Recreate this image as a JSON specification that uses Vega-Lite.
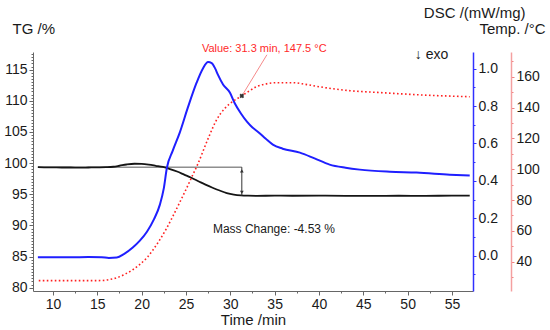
{
  "$schema": "https://vega.github.io/schema/vega-lite/v6.json",
  "width": 440,
  "height": 239,
  "autosize": {"type": "none"},
  "padding": {"left": 33, "top": 52, "right": 77, "bottom": 39},
  "background": "white",
  "config": {
    "font": "Liberation Sans",
    "view": {"stroke": null},
    "axis": {"grid": false, "labelFontSize": 14, "labelColor": "#1a1a1a", "titleFontSize": 15, "titleFontWeight": "normal", "titleColor": "#1a1a1a", "labelOverlap": false, "labelFlush": false}
  },
  "datasets": {
    "tg": [
      {"t": 8.3, "tg": 99.35}, {"t": 9, "tg": 99.33}, {"t": 10, "tg": 99.32}, {"t": 11, "tg": 99.3}, {"t": 12, "tg": 99.3},
      {"t": 13, "tg": 99.28}, {"t": 14, "tg": 99.3}, {"t": 15, "tg": 99.32}, {"t": 16, "tg": 99.35}, {"t": 16.8, "tg": 99.42},
      {"t": 17.5, "tg": 99.58}, {"t": 18.3, "tg": 99.78}, {"t": 19.2, "tg": 99.9}, {"t": 20, "tg": 99.87}, {"t": 20.8, "tg": 99.75},
      {"t": 21.6, "tg": 99.57}, {"t": 22.4, "tg": 99.38}, {"t": 23.2, "tg": 99.05}, {"t": 24, "tg": 98.65}, {"t": 24.8, "tg": 98.15},
      {"t": 25.6, "tg": 97.65}, {"t": 26.4, "tg": 97.1}, {"t": 27.2, "tg": 96.55}, {"t": 28, "tg": 96.05}, {"t": 28.8, "tg": 95.6},
      {"t": 29.6, "tg": 95.2}, {"t": 30.4, "tg": 94.95}, {"t": 31.2, "tg": 94.82}, {"t": 32, "tg": 94.77}, {"t": 33, "tg": 94.75},
      {"t": 35, "tg": 94.78}, {"t": 37, "tg": 94.76}, {"t": 40, "tg": 94.78}, {"t": 43, "tg": 94.75}, {"t": 46, "tg": 94.74},
      {"t": 49, "tg": 94.76}, {"t": 52, "tg": 94.75}, {"t": 55, "tg": 94.77}, {"t": 57, "tg": 94.77}
    ],
    "dsc": [
      {"t": 8.3, "dsc": -0.008}, {"t": 10, "dsc": -0.008}, {"t": 12, "dsc": -0.009}, {"t": 14, "dsc": -0.007}, {"t": 15.5, "dsc": -0.008},
      {"t": 16.3, "dsc": -0.012}, {"t": 17.2, "dsc": -0.01}, {"t": 18, "dsc": 0.008}, {"t": 19, "dsc": 0.043}, {"t": 19.8, "dsc": 0.08},
      {"t": 20.6, "dsc": 0.128}, {"t": 21.4, "dsc": 0.195}, {"t": 22.06, "dsc": 0.273}, {"t": 22.5, "dsc": 0.36}, {"t": 22.85, "dsc": 0.47},
      {"t": 23.5, "dsc": 0.56}, {"t": 24.3, "dsc": 0.658}, {"t": 25.2, "dsc": 0.79}, {"t": 26.2, "dsc": 0.925}, {"t": 26.9, "dsc": 1.0},
      {"t": 27.5, "dsc": 1.035}, {"t": 27.9, "dsc": 1.03}, {"t": 28.3, "dsc": 1.0}, {"t": 28.6, "dsc": 0.968}, {"t": 29.2, "dsc": 0.914},
      {"t": 29.95, "dsc": 0.872}, {"t": 30.5, "dsc": 0.815}, {"t": 31.2, "dsc": 0.76}, {"t": 31.9, "dsc": 0.715}, {"t": 32.5, "dsc": 0.685},
      {"t": 33.1, "dsc": 0.663}, {"t": 34, "dsc": 0.625}, {"t": 34.8, "dsc": 0.594}, {"t": 35.9, "dsc": 0.572}, {"t": 37.85, "dsc": 0.551},
      {"t": 39.5, "dsc": 0.52}, {"t": 41.2, "dsc": 0.487}, {"t": 43, "dsc": 0.47}, {"t": 44.6, "dsc": 0.46}, {"t": 48, "dsc": 0.449},
      {"t": 51, "dsc": 0.444}, {"t": 54.75, "dsc": 0.433}, {"t": 57, "dsc": 0.428}
    ],
    "temp": [
      {"t": 8.4, "temp": 27.7}, {"t": 10, "temp": 27.7}, {"t": 12, "temp": 27.7}, {"t": 14, "temp": 27.7}, {"t": 15.6, "temp": 27.8},
      {"t": 16.4, "temp": 28.5}, {"t": 17.2, "temp": 29.6}, {"t": 18.1, "temp": 31.8}, {"t": 19, "temp": 34.8}, {"t": 19.8, "temp": 38.3},
      {"t": 20.6, "temp": 42.6}, {"t": 21.3, "temp": 47.8}, {"t": 22.06, "temp": 54.3}, {"t": 22.8, "temp": 61.5}, {"t": 23.5, "temp": 69.2},
      {"t": 24.3, "temp": 78.5}, {"t": 25.1, "temp": 88.0}, {"t": 25.7, "temp": 95.5}, {"t": 26.35, "temp": 103.5}, {"t": 27.4, "temp": 118.5},
      {"t": 28.5, "temp": 132.5}, {"t": 29.4, "temp": 139.5}, {"t": 30.3, "temp": 144.0}, {"t": 31.3, "temp": 147.5}, {"t": 32.1, "temp": 150.6},
      {"t": 33, "temp": 153.6}, {"t": 34, "temp": 155.3}, {"t": 35.2, "temp": 156.1}, {"t": 37, "temp": 156.1}, {"t": 38.5, "temp": 155.0},
      {"t": 40, "temp": 153.5}, {"t": 43.5, "temp": 150.9}, {"t": 47.2, "temp": 149.6}, {"t": 51, "temp": 148.3}, {"t": 57, "temp": 147.0}
    ],
    "baseline": [{"t": 8.3, "t2": 31.3, "tg": 99.35}],
    "massArrow": [{"t": 31.3, "tg": 99.35, "tg2": 94.77}],
    "arrowHeads": [{"t": 31.3, "tg": 98.75, "end": "top"}, {"t": 31.3, "tg": 95.3, "end": "bottom"}],
    "massLabel": [{"t": 28.04, "tg": 89.47, "label": "Mass Change: -4.53 %"}],
    "exoLabel": [{"t": 50.8, "tg": 117.4, "label": "↓ exo"}],
    "marker": [{"t": 31.3, "temp": 147.5}],
    "leader": [{"t": 31.3, "temp": 147.5, "t2": 34.13, "temp2": 174.2}],
    "valueLabel": [{"t": 26.8, "temp": 178.2, "label": "Value: 31.3 min, 147.5 °C"}]
  },
  "encoding": {
    "x": {
      "field": "t", "type": "quantitative",
      "scale": {"domain": [7.75, 57.37], "nice": false, "zero": false},
      "axis": {
        "title": "Time /min", "titleX": 220, "titleY": 28, "titleBaseline": "middle", "titleAlign": "center",
        "values": [10, 12.5, 15, 17.5, 20, 22.5, 25, 27.5, 30, 32.5, 35, 37.5, 40, 42.5, 45, 47.5, 50, 52.5, 55],
        "format": ".0f",
        "labelExpr": "datum.value % 5 === 0 ? datum.label : ''",
        "tickSize": {"condition": {"test": "datum.value % 5 === 0", "value": 4}, "value": 2},
        "domainColor": "#666", "tickColor": "#666", "labelPadding": 2
      }
    }
  },
  "layer": [
    {
      "encoding": {
        "y": {
          "field": "tg", "type": "quantitative",
          "scale": {"domain": [79.47, 117.84], "nice": false, "zero": false},
          "axis": {
            "orient": "left", "title": "TG /%", "titleAngle": 0, "titleAlign": "left", "titleBaseline": "middle", "titleX": -21, "titleY": -24,
            "values": [80, 80.5, 81, 81.5, 82, 82.5, 83, 83.5, 84, 84.5, 85, 85.5, 86, 86.5, 87, 87.5, 88, 88.5, 89, 89.5, 90, 90.5, 91, 91.5, 92, 92.5, 93, 93.5, 94, 94.5, 95, 95.5, 96, 96.5, 97, 97.5, 98, 98.5, 99, 99.5, 100, 100.5, 101, 101.5, 102, 102.5, 103, 103.5, 104, 104.5, 105, 105.5, 106, 106.5, 107, 107.5, 108, 108.5, 109, 109.5, 110, 110.5, 111, 111.5, 112, 112.5, 113, 113.5, 114, 114.5, 115, 115.5, 116, 116.5, 117, 117.5],
            "format": ".0f",
            "labelExpr": "datum.value % 5 === 0 ? datum.label : ''",
            "tickSize": {"condition": {"test": "datum.value % 5 === 0", "value": 4}, "value": 2},
            "domainColor": "#666", "tickColor": "#666", "labelPadding": 2
          }
        }
      },
      "layer": [
        {"data": {"name": "baseline"}, "mark": {"type": "rule", "color": "#555", "strokeWidth": 1}, "encoding": {"x2": {"field": "t2"}}},
        {"data": {"name": "tg"}, "mark": {"type": "line", "color": "#151515", "strokeWidth": 1.8, "interpolate": "monotone"}},
        {"data": {"name": "massArrow"}, "mark": {"type": "rule", "color": "#333", "strokeWidth": 1}, "encoding": {"y2": {"field": "tg2"}}},
        {"data": {"name": "arrowHeads"}, "mark": {"type": "point", "filled": true, "size": 14, "color": "#333", "opacity": 1},
         "encoding": {"shape": {"field": "end", "type": "nominal", "scale": {"domain": ["top", "bottom"], "range": ["triangle-up", "triangle-down"]}, "legend": null}}},
        {"data": {"name": "massLabel"}, "mark": {"type": "text", "align": "left", "baseline": "middle", "fontSize": 12, "color": "#1a1a1a"}, "encoding": {"text": {"field": "label"}}},
        {"data": {"name": "exoLabel"}, "mark": {"type": "text", "align": "left", "baseline": "middle", "fontSize": 14, "color": "#1a1a1a"}, "encoding": {"text": {"field": "label"}}}
      ]
    },
    {
      "data": {"name": "dsc"},
      "mark": {"type": "line", "color": "#1f1fff", "strokeWidth": 2, "interpolate": "monotone"},
      "encoding": {
        "y": {
          "field": "dsc", "type": "quantitative",
          "scale": {"domain": [-0.189, 1.089], "nice": false, "zero": false},
          "axis": {
            "orient": "right", "offset": 0, "title": "DSC /(mW/mg)", "titleAngle": 0, "titleAlign": "right", "titleBaseline": "middle", "titleX": 52, "titleY": -40,
            "values": [-0.1, 0, 0.1, 0.2, 0.3, 0.4, 0.5, 0.6, 0.7, 0.8, 0.9, 1.0],
            "format": ".1f",
            "labelExpr": "round(datum.value * 10) % 2 === 0 ? datum.label : ''",
            "tickSize": {"condition": {"test": "round(datum.value * 10) % 2 === 0", "value": 3}, "value": 2},
            "domainColor": "#3030ff", "tickColor": "#3030ff", "domainWidth": 1.5, "labelPadding": 2
          }
        }
      }
    },
    {
      "encoding": {
        "y": {
          "field": "temp", "type": "quantitative",
          "scale": {"domain": [21.0, 176.0], "nice": false, "zero": false},
          "axis": {
            "orient": "right", "offset": 38, "title": "Temp. /°C", "titleAngle": 0, "titleAlign": "right", "titleBaseline": "middle", "titleX": 34, "titleY": -24,
            "values": [30, 40, 50, 60, 70, 80, 90, 100, 110, 120, 130, 140, 150, 160, 170],
            "labelExpr": "datum.value % 20 === 0 ? datum.label : ''",
            "tickSize": {"condition": {"test": "datum.value % 20 === 0", "value": 3}, "value": 2},
            "domainColor": "#f4a0a0", "tickColor": "#f08080", "domainWidth": 1.5, "labelPadding": 2
          }
        }
      },
      "layer": [
        {"data": {"name": "temp"}, "mark": {"type": "line", "color": "#ff2020", "strokeWidth": 1.6, "strokeDash": [1.6, 2.4], "interpolate": "monotone"}},
        {"data": {"name": "leader"}, "mark": {"type": "rule", "color": "#f58a8a", "strokeWidth": 1}, "encoding": {"x2": {"field": "t2"}, "y2": {"field": "temp2"}}},
        {"data": {"name": "marker"}, "mark": {"type": "point", "shape": "cross", "angle": 45, "filled": true, "size": 22, "color": "#333", "opacity": 1}},
        {"data": {"name": "valueLabel"}, "mark": {"type": "text", "align": "left", "baseline": "middle", "fontSize": 11, "color": "#ff2a2a"}, "encoding": {"text": {"field": "label"}}}
      ]
    }
  ],
  "resolve": {"scale": {"y": "independent", "shape": "independent"}}
}
